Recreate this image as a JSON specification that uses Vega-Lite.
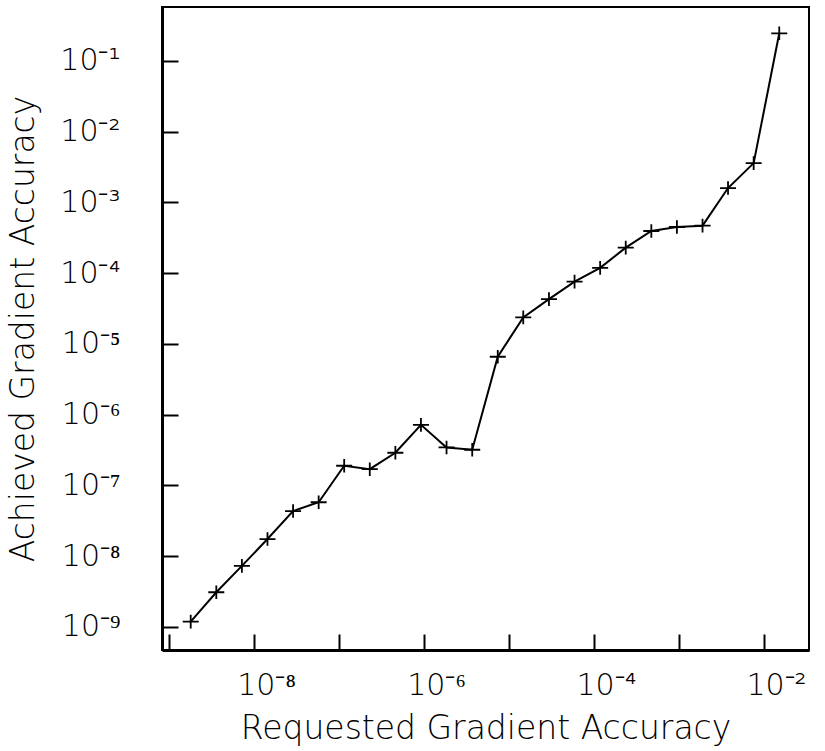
{
  "$schema": "https://vega.github.io/schema/vega-lite/v6.json",
  "width": 647,
  "height": 643,
  "autosize": {"type": "none"},
  "padding": {"left": 162, "top": 7, "right": 16, "bottom": 101},
  "background": "white",
  "config": {
    "view": {"stroke": "black", "strokeWidth": 2},
    "font": "DejaVu Sans",
    "axis": {
      "domainColor": "black",
      "domainWidth": 3,
      "tickColor": "black",
      "tickWidth": 2,
      "tickSize": -16,
      "grid": false,
      "labelColor": "black",
      "titleColor": "black",
      "labelFont": "DejaVu Sans",
      "titleFont": "DejaVu Sans",
      "labelFontSize": 30,
      "labelFontWeight": 200,
      "titleFontSize": 33,
      "titleFontWeight": 200
    }
  },
  "data": {
    "values": [
      {"requested": 1.8e-9, "achieved": 1.19e-9},
      {"requested": 3.6e-9, "achieved": 3.1e-9},
      {"requested": 7.2e-9, "achieved": 7.3e-9},
      {"requested": 1.44e-8, "achieved": 1.75e-8},
      {"requested": 2.88e-8, "achieved": 4.35e-8},
      {"requested": 5.76e-8, "achieved": 5.8e-8},
      {"requested": 1.15e-7, "achieved": 1.9e-7},
      {"requested": 2.3e-7, "achieved": 1.7e-7},
      {"requested": 4.6e-7, "achieved": 2.9e-7},
      {"requested": 9.2e-7, "achieved": 7.2e-7},
      {"requested": 1.84e-6, "achieved": 3.45e-7},
      {"requested": 3.69e-6, "achieved": 3.2e-7},
      {"requested": 7.37e-6, "achieved": 6.6e-6},
      {"requested": 1.47e-5, "achieved": 2.38e-5},
      {"requested": 2.95e-5, "achieved": 4.3e-5},
      {"requested": 5.9e-5, "achieved": 7.6e-5},
      {"requested": 1.18e-4, "achieved": 1.19e-4},
      {"requested": 2.36e-4, "achieved": 2.3e-4},
      {"requested": 4.72e-4, "achieved": 3.95e-4},
      {"requested": 9.44e-4, "achieved": 4.5e-4},
      {"requested": 1.89e-3, "achieved": 4.7e-4},
      {"requested": 3.77e-3, "achieved": 1.6e-3},
      {"requested": 7.55e-3, "achieved": 3.6e-3},
      {"requested": 1.51e-2, "achieved": 0.246}
    ]
  },
  "encoding": {
    "x": {
      "field": "requested",
      "type": "quantitative",
      "scale": {"type": "log", "domain": [8.27e-10, 0.0338], "nice": false},
      "axis": {
        "title": "Requested Gradient Accuracy",
        "values": [1e-9, 1e-8, 1e-7, 1e-6, 1e-5, 1e-4, 1e-3, 1e-2],
        "labelExpr": "round(log(datum.value)/LN10) % 2 == 0 ? '10⁻' + ['⁰','¹','²','³','⁴','⁵','⁶','⁷','⁸','⁹'][-round(log(datum.value)/LN10)] : ''",
        "labelOffset": 12,
        "labelPadding": 36,
        "titlePadding": 12
      }
    },
    "y": {
      "field": "achieved",
      "type": "quantitative",
      "scale": {"type": "log", "domain": [4.73e-10, 0.579], "nice": false},
      "axis": {
        "title": "Achieved Gradient Accuracy",
        "values": [1e-9, 1e-8, 1e-7, 1e-6, 1e-5, 1e-4, 1e-3, 1e-2, 1e-1],
        "labelExpr": "'10⁻' + ['⁰','¹','²','³','⁴','⁵','⁶','⁷','⁸','⁹'][-round(log(datum.value)/LN10)]",
        "labelPadding": 58,
        "titlePadding": 19
      }
    }
  },
  "layer": [
    {"mark": {"type": "line", "color": "black", "strokeWidth": 2}},
    {
      "mark": {
        "type": "point",
        "shape": "M-1,0H1M0,-0.85V0.85",
        "filled": false,
        "stroke": "black",
        "strokeWidth": 1.8,
        "size": 256,
        "opacity": 1
      }
    }
  ]
}
